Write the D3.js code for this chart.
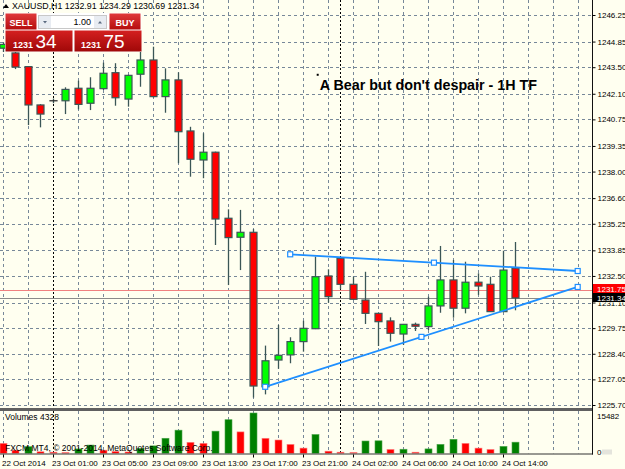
<!DOCTYPE html>
<html>
<head>
<meta charset="utf-8">
<script src="https://cdn.jsdelivr.net/npm/d3@7"></script>
<style>
  html, body { margin: 0; padding: 0; background: #fffff0; }
  svg { display: block; }
  text { font-family: "Liberation Sans", Arial, sans-serif; }
</style>
</head>
<body>
<svg id="chart" width="625" height="469"></svg>
<script>
// ---------------- DATA ----------------
const symbolHeader = "XAUUSD,H1  1232.91 1234.29 1230.69 1231.34";
const opens  = [1244.50,1244.25,1243.53,1241.51,1241.73,1241.73,1242.39,1241.60,1242.37,1243.21,
                1241.82,1243.13,1243.88,1241.95,1242.83,1240.14,1238.61,1239.02,1235.54,1234.54,
                1234.80,1226.66,1228.07,1228.34,1229.04,1229.72,1232.50,1233.43,1232.06,1231.23,
                1230.53,1230.13,1229.44,1229.95,1229.83,1230.92,1232.29,1230.80,1232.17,1232.06,
                1230.62,1232.91];
const highs  = [1244.80,1244.60,1243.55,1241.55,1241.85,1242.44,1242.79,1242.97,1243.74,1243.71,
                1243.10,1244.41,1244.58,1243.44,1243.23,1240.36,1240.02,1239.05,1236.01,1235.98,
                1234.97,1228.83,1229.92,1229.27,1230.14,1233.52,1232.85,1233.45,1232.46,1232.72,
                1230.55,1230.32,1229.97,1230.04,1231.41,1234.08,1233.34,1233.25,1232.64,1232.46,
                1233.83,1234.29];
const lows   = [1244.30,1243.40,1240.45,1240.33,1241.60,1241.03,1241.28,1241.24,1242.30,1241.47,
                1241.42,1242.47,1241.90,1241.10,1238.44,1237.73,1237.65,1234.13,1232.02,1232.81,
                1226.09,1226.26,1227.61,1227.90,1228.51,1229.70,1231.09,1231.80,1231.25,1229.97,
                1228.81,1229.04,1228.86,1229.60,1229.65,1230.56,1230.30,1230.53,1231.50,1230.60,
                1230.60,1230.69];
const closes = [1244.70,1243.51,1241.51,1241.03,1241.73,1242.33,1241.54,1242.39,1243.18,1241.89,
                1243.07,1243.88,1241.95,1242.83,1240.10,1238.65,1239.02,1235.50,1234.52,1234.80,
                1226.70,1228.03,1228.32,1229.04,1229.74,1232.46,1231.41,1232.06,1231.27,1230.53,
                1230.09,1229.48,1229.95,1229.85,1230.92,1232.29,1230.80,1232.17,1231.97,1230.62,
                1232.81,1231.34];
const volumes = [3880,1280,2600,660,505,390,1750,3220,1280,780,
                 580,1940,2910,5820,8920,4270,3880,8540,12920,8260,
                 15482,5820,5160,3490,2060,7260,890,500,390,4770,
                 4850,1550,1630,500,1750,3490,5430,3880,2060,1550,
                 2720,4328];
const priceTicks = [1225.70,1227.05,1228.40,1229.75,1231.10,1232.50,1233.85,1235.25,
                    1236.60,1238.00,1239.35,1240.75,1242.10,1243.50,1244.85,1246.25];
const timeLabels = ["22 Oct 2014","23 Oct 01:00","23 Oct 05:00","23 Oct 09:00","23 Oct 13:00",
                    "23 Oct 17:00","23 Oct 21:00","24 Oct 02:00","24 Oct 06:00","24 Oct 10:00","24 Oct 14:00"];
const timeLabelBars = [0,4,8,12,16,20,24,28,32,36,40];
const daySeparatorBars = [4,27];
const bidPrice = 1231.34, askPrice = 1231.75;
const upperTrend = [{bar:23, price:1233.64},{bar:46, price:1232.76}];
const lowerTrend = [{bar:21, price:1226.66},{bar:46, price:1231.92}];
const volumeMax = 15482;
const annotation = "A Bear but don't despair - 1H TF";
const annotationAnchor = {bar:25.2, price:1243.1};

// ---------------- LAYOUT ----------------
const svg = d3.select("#chart");
const W = 625, H = 469;
const plotRight = 592;
const mainTop = 0, mainBottom = 408;
const volTop = 411, volBottom = 453.5;

const x = d3.scaleLinear().domain([0, 46]).range([2.7, 577.7]);
const y = d3.scaleLinear().domain([1225.70, 1246.25]).range([405, 15]);
const yv = d3.scaleLinear().domain([0, volumeMax]).range([volBottom, 413]);

const BG = "#fffff0", GRID = "#778899";

svg.append("rect").attr("width", W).attr("height", H).attr("fill", BG);

const defs = svg.append("defs");
defs.append("clipPath").attr("id","mainClip").append("rect")
  .attr("x",0).attr("y",mainTop).attr("width",plotRight).attr("height",mainBottom-mainTop);
defs.append("clipPath").attr("id","volClip").append("rect")
  .attr("x",0).attr("y",volTop).attr("width",plotRight).attr("height",volBottom-volTop);

// grid main
const gMain = svg.append("g").attr("clip-path","url(#mainClip)");
gMain.selectAll("line.hg").data(priceTicks).join("line")
  .attr("x1",0).attr("x2",plotRight)
  .attr("y1",d=>Math.round(y(d))+0.5).attr("y2",d=>Math.round(y(d))+0.5)
  .attr("stroke",GRID).attr("stroke-dasharray","3,3").attr("stroke-width",1);
const gridBars = d3.range(0, 47, 2).filter(b => !daySeparatorBars.includes(b));
gMain.selectAll("line.vg").data(gridBars).join("line")
  .attr("x1",d=>Math.round(x(d))+0.5).attr("x2",d=>Math.round(x(d))+0.5)
  .attr("y1",mainTop).attr("y2",mainBottom)
  .attr("stroke",GRID).attr("stroke-dasharray","3,3");

const gVol = svg.append("g").attr("clip-path","url(#volClip)");
gVol.selectAll("line.vg").data(gridBars).join("line")
  .attr("x1",d=>Math.round(x(d))+0.5).attr("x2",d=>Math.round(x(d))+0.5)
  .attr("y1",volTop).attr("y2",volBottom)
  .attr("stroke",GRID).attr("stroke-dasharray","3,3");

[gMain, gVol].forEach((g,k) => {
  g.selectAll("line.ds").data(daySeparatorBars).join("line")
    .attr("x1",d=>Math.round(x(d))+0.5).attr("x2",d=>Math.round(x(d))+0.5)
    .attr("y1",k===0?mainTop:volTop).attr("y2",k===0?mainBottom:volBottom)
    .attr("stroke","#000").attr("stroke-dasharray","2,2");
});

// bid / ask lines
gMain.append("line").attr("x1",0).attr("x2",plotRight)
  .attr("y1",Math.round(y(askPrice))+0.5).attr("y2",Math.round(y(askPrice))+0.5)
  .attr("stroke","#f08080").attr("stroke-width",1.2);
gMain.append("line").attr("x1",0).attr("x2",plotRight)
  .attr("y1",Math.round(y(bidPrice))+0.5).attr("y2",Math.round(y(bidPrice))+0.5)
  .attr("stroke","#8a8a8a").attr("stroke-width",1.2);

// candles
const bars = d3.range(opens.length).map(i => ({i, o:opens[i], h:highs[i], l:lows[i], c:closes[i], v:volumes[i]}));
const OUT = "#3b5656";
const cg = gMain.selectAll("g.candle").data(bars).join("g");
cg.append("line")
  .attr("x1",d=>Math.round(x(d.i))+0.5).attr("x2",d=>Math.round(x(d.i))+0.5)
  .attr("y1",d=>y(d.h)).attr("y2",d=>y(d.l))
  .attr("stroke",OUT).attr("stroke-width",1.3);
cg.append("rect")
  .attr("x",d=>Math.round(x(d.i))-3)
  .attr("width",7)
  .attr("y",d=>y(Math.max(d.o,d.c)))
  .attr("height",d=>Math.max(0.01, y(Math.min(d.o,d.c)) - y(Math.max(d.o,d.c))))
  .attr("fill",d=>d.c>d.o ? "#00ff00" : (d.c<d.o ? "#ff0000" : "none"))
  .attr("stroke",d=>d.c===d.o ? "#222" : OUT).attr("stroke-width",1.2);

// trend lines
const trendColor = "#1e8fff";
[upperTrend, lowerTrend].forEach(t => {
  gMain.append("line")
    .attr("x1",x(t[0].bar)).attr("y1",y(t[0].price))
    .attr("x2",x(t[1].bar)).attr("y2",y(t[1].price))
    .attr("stroke",trendColor).attr("stroke-width",1.8);
  const pts = [t[0], {bar:(t[0].bar+t[1].bar)/2, price:(t[0].price+t[1].price)/2}, t[1]];
  gMain.selectAll(null).data(pts).join("rect")
    .attr("x",d=>x(d.bar)-2.5).attr("y",d=>y(d.price)-2.5)
    .attr("width",5).attr("height",5)
    .attr("fill","#fff").attr("stroke",trendColor).attr("stroke-width",1.2);
});

// annotation
gMain.append("rect").attr("x",x(annotationAnchor.bar)-1).attr("y",y(annotationAnchor.price)-1)
  .attr("width",2).attr("height",2).attr("fill","#000");
gMain.append("text").attr("x",x(annotationAnchor.bar)+2).attr("y",y(annotationAnchor.price)+15)
  .attr("font-size","14.3px").attr("font-weight","bold").attr("fill","#000")
  .text(annotation);

// volumes
gVol.selectAll("rect.vol").data(bars).join("rect")
  .attr("x",d=>Math.round(x(d.i))-3).attr("width",7)
  .attr("y",d=>yv(d.v)).attr("height",d=>volBottom - yv(d.v))
  .attr("fill",d=> (d.i===0 || d.v < volumes[d.i-1]) ? "#ff0000" : "#008000")
  .attr("stroke",d=> (d.i===0 || d.v < volumes[d.i-1]) ? "#ff8080" : "#4da64d")
  .attr("stroke-width",0.6);

svg.append("text").attr("x",5).attr("y",420).attr("font-size","8.5px").attr("fill","#000").text("Volumes " + volumes[volumes.length-1]);
svg.append("text").attr("x",5).attr("y",451).attr("font-size","8.5px").attr("fill","#000")
  .text("FXCM MT4, \u00a9 2001-2014, MetaQuotes Software Corp.");

// panel separator & axes lines
svg.append("rect").attr("x",0).attr("y",mainBottom).attr("width",plotRight+1).attr("height",3).attr("fill","#606060");
svg.append("line").attr("x1",0).attr("x2",plotRight+1).attr("y1",volBottom+0.5).attr("y2",volBottom+0.5).attr("stroke","#333");
svg.append("line").attr("x1",plotRight+0.5).attr("x2",plotRight+0.5).attr("y1",0).attr("y2",volBottom+1).attr("stroke","#111");

// ask / bid box positions
const askTop = Math.round(y(askPrice)) - 6;
const bidTop = askTop + 9;

// right price axis (labels covered by the bid box are clipped, as in the terminal)
defs.append("clipPath").attr("id","axisClip").append("path")
  .attr("d",`M0,0 H40 V${askTop} H0 Z M0,${bidTop+9} H40 V${H} H0 Z`);
const axisG = svg.append("g").attr("transform",`translate(${plotRight+0.5},0)`);
const yAxis = d3.axisRight(y).tickValues(priceTicks).tickSize(3).tickPadding(2).tickFormat(d3.format(".2f"));
axisG.call(yAxis);
axisG.select(".domain").remove();
axisG.selectAll(".tick line").attr("stroke","#000");
axisG.selectAll(".tick text").attr("font-size","8px").attr("font-family","Liberation Sans, Arial, sans-serif").attr("fill","#000")
  .attr("clip-path", d => (y(d) > askTop - 4 && y(d) < bidTop + 14) ? "url(#axisClipLocal)" : null);
axisG.selectAll(".tick").each(function(d){
  if (y(d) > askTop - 4 && y(d) < bidTop + 14) {
    const t = d3.select(this);
    const cy = y(d);
    const id = "tc" + Math.round(d*100);
    defs.append("clipPath").attr("id",id).append("rect")
      .attr("x",0).attr("y",(bidTop+9) - cy).attr("width",40).attr("height",20);
    t.select("text").attr("clip-path",`url(#${id})`);
  }
});

function priceBox(price, fill, top) {
  svg.append("rect").attr("x",plotRight+1).attr("y",top).attr("width",W-plotRight-1).attr("height",9).attr("fill",fill);
  svg.append("text").attr("x",plotRight+5).attr("y",top+7.5).attr("font-size","8px").attr("fill","#fff").text(d3.format(".2f")(price));
}
priceBox(askPrice, "#ff0000", askTop);
priceBox(bidPrice, "#000000", bidTop);

// volume axis labels
svg.append("text").attr("x",plotRight+5).attr("y",yv(volumeMax)+6).attr("font-size","8px").text(volumeMax);
svg.append("text").attr("x",plotRight+5).attr("y",volBottom+1).attr("font-size","8px").text("0");
svg.append("rect").attr("x",plotRight+10).attr("y",volBottom-4).attr("width",10).attr("height",5).attr("fill","#e4e4dc");

// time axis
const tg = svg.append("g");
tg.selectAll("line").data(timeLabelBars).join("line")
  .attr("x1",d=>Math.round(x(d))+0.5).attr("x2",d=>Math.round(x(d))+0.5)
  .attr("y1",volBottom+1).attr("y2",volBottom+4).attr("stroke","#000");
tg.selectAll("text").data(timeLabels).join("text")
  .attr("x",(d,k)=>Math.round(x(timeLabelBars[k]))-1).attr("y",466)
  .attr("font-size","8px").attr("fill","#000").text(d=>d);

// header
svg.append("path").attr("d","M3,8 L6,4 L9,8 Z").attr("fill","#000");
svg.append("text").attr("x",12).attr("y",9).attr("font-size","8.8px").attr("fill","#000").text(symbolHeader);

// one-click trading panel
const grad = defs.append("linearGradient").attr("id","redGrad").attr("x1",0).attr("y1",0).attr("x2",0).attr("y2",1);
grad.append("stop").attr("offset","0%").attr("stop-color","#e03a3a");
grad.append("stop").attr("offset","100%").attr("stop-color","#b50d0d");
const grad2 = defs.append("linearGradient").attr("id","redGrad2").attr("x1",0).attr("y1",0).attr("x2",0).attr("y2",1);
grad2.append("stop").attr("offset","0%").attr("stop-color","#d42020");
grad2.append("stop").attr("offset","100%").attr("stop-color","#a00808");
const panel = svg.append("g");
panel.append("rect").attr("x",5).attr("y",13).attr("width",136.5).attr("height",39).attr("fill","#fff");
panel.append("rect").attr("x",5.5).attr("y",13.5).attr("width",31).attr("height",16).attr("fill","url(#redGrad)");
panel.append("rect").attr("x",109.5).attr("y",13.5).attr("width",31).attr("height",16).attr("fill","url(#redGrad)");
panel.append("rect").attr("x",38.5).attr("y",15.5).attr("width",68).attr("height",13).attr("fill","#fff").attr("stroke","#c8c8c8");
panel.append("rect").attr("x",39).attr("y",16).attr("width",12).attr("height",12).attr("fill","#e8ecf2");
panel.append("rect").attr("x",94).attr("y",16).attr("width",12).attr("height",12).attr("fill","#e8ecf2");
panel.append("path").attr("d","M43,21 L47,21 L45,23.5 Z").attr("fill","#5a6a80");
panel.append("path").attr("d","M98,23.5 L102,23.5 L100,21 Z").attr("fill","#5a6a80");
panel.append("text").attr("x",91).attr("y",25).attr("text-anchor","end").attr("font-size","9px").attr("fill","#000").text("1.00");
panel.append("text").attr("x",21).attr("y",25.5).attr("text-anchor","middle").attr("font-size","9px").attr("font-weight","bold").attr("fill","#fff").text("SELL");
panel.append("text").attr("x",125).attr("y",25.5).attr("text-anchor","middle").attr("font-size","9px").attr("font-weight","bold").attr("fill","#fff").text("BUY");
panel.append("rect").attr("x",5.5).attr("y",30.5).attr("width",67).attr("height",21).attr("fill","url(#redGrad2)");
panel.append("rect").attr("x",74.5).attr("y",30.5).attr("width",67).attr("height",21).attr("fill","url(#redGrad2)");
const sellTxt = panel.append("text").attr("x",13).attr("y",48).attr("fill","#fff");
sellTxt.append("tspan").attr("font-size","9px").attr("font-weight","bold").text("1231 ");
sellTxt.append("tspan").attr("font-size","19px").text("34");
const buyTxt = panel.append("text").attr("x",81).attr("y",48).attr("fill","#fff");
buyTxt.append("tspan").attr("font-size","9px").attr("font-weight","bold").text("1231 ");
buyTxt.append("tspan").attr("font-size","19px").text("75");
</script>
</body>
</html>
